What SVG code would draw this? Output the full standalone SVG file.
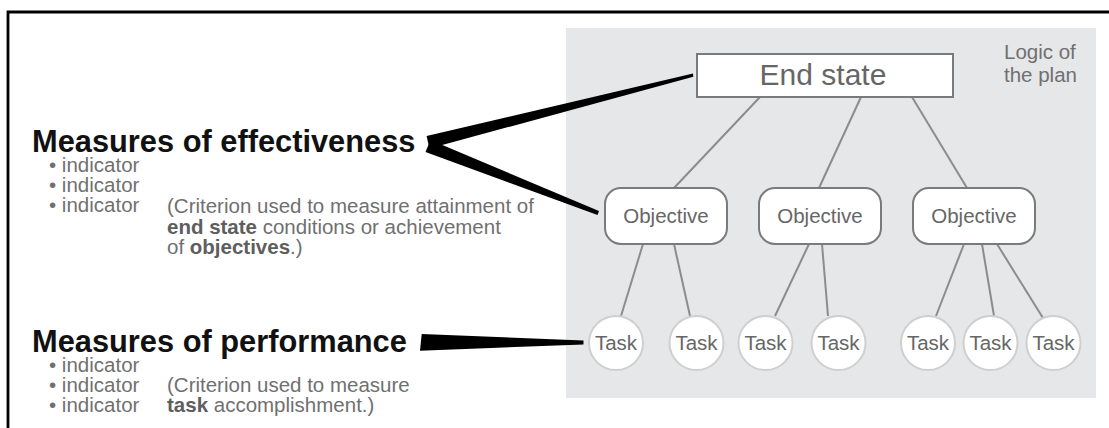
<svg xmlns="http://www.w3.org/2000/svg" width="1109" height="428" viewBox="0 0 1109 428">
<style>
text{font-family:"Liberation Sans",Arial,sans-serif}
.h{font-size:30.8px;font-weight:bold;fill:#111}
.b{font-size:20.5px;fill:#707070}
.bb{font-weight:bold;fill:#5e5e5e}
.n{font-size:20.5px;fill:#666;text-anchor:middle}
.es{font-size:30px;fill:#666;text-anchor:middle}
.box{fill:#fff;stroke:#7a7a7a;stroke-width:2}
.task{fill:#fff;stroke:#cfcfcf;stroke-width:2}
.ln{stroke:#8c8c8c;stroke-width:2;fill:none}
.wedge{fill:#000}
</style>
<rect x="0" y="0" width="1109" height="428" fill="#fff"/>
<g id="frame" stroke="#000" stroke-width="2.8" fill="none">
<path d="M8,428 V12 H1109"/>
</g>
<rect id="panel" x="566" y="28" width="530" height="370" fill="#e6e7e9"/>
<g id="connectors">
<line class="ln" x1="760" y1="97" x2="674" y2="188"/>
<line class="ln" x1="861" y1="97" x2="819" y2="188"/>
<line class="ln" x1="912" y1="97" x2="967" y2="188"/>
<line class="ln" x1="643" y1="244" x2="621" y2="316"/>
<line class="ln" x1="674" y1="244" x2="690" y2="316"/>
<line class="ln" x1="809" y1="244" x2="775" y2="316"/>
<line class="ln" x1="822" y1="244" x2="828" y2="316"/>
<line class="ln" x1="964" y1="244" x2="936" y2="316"/>
<line class="ln" x1="982" y1="244" x2="994" y2="316"/>
<line class="ln" x1="997" y1="244" x2="1043" y2="318"/>
<polygon class="wedge" points="426.6,136 693,73.5 693.3,76.8 429.4,148.5"/>
<polygon class="wedge" points="430.5,140 599,211 597.5,215 425.5,152"/>
<polygon class="wedge" points="421.7,334 583.5,340.5 583.5,344.5 420,350.7"/>
</g>
<g id="endstate">
<rect class="box" x="697" y="54" width="256" height="43"/>
<text class="es" x="823" y="85">End state</text>
</g>
<g id="logic">
<text class="b" x="1004" y="59">Logic of</text>
<text class="b" x="1004" y="82">the plan</text>
</g>
<g id="obj1"><rect class="box" x="605" y="188" width="122" height="56" rx="16"/><text class="n" x="666" y="223">Objective</text></g>
<g id="obj2"><rect class="box" x="759" y="188" width="122" height="56" rx="16"/><text class="n" x="820" y="223">Objective</text></g>
<g id="obj3"><rect class="box" x="913" y="188" width="122" height="56" rx="16"/><text class="n" x="974" y="223">Objective</text></g>
<g id="task1"><circle class="task" cx="616" cy="343" r="27"/><text class="n" x="616" y="350">Task</text></g>
<g id="task2"><circle class="task" cx="696.5" cy="343" r="27"/><text class="n" x="696.5" y="350">Task</text></g>
<g id="task3"><circle class="task" cx="765.5" cy="343" r="27"/><text class="n" x="765.5" y="350">Task</text></g>
<g id="task4"><circle class="task" cx="838.5" cy="343" r="27"/><text class="n" x="838.5" y="350">Task</text></g>
<g id="task5"><circle class="task" cx="928" cy="343" r="27"/><text class="n" x="928" y="350">Task</text></g>
<g id="task6"><circle class="task" cx="990.5" cy="343" r="27"/><text class="n" x="990.5" y="350">Task</text></g>
<g id="task7"><circle class="task" cx="1053.5" cy="343" r="27"/><text class="n" x="1053.5" y="350">Task</text></g>
<g id="moe">
<text class="h" x="32" y="152">Measures of effectiveness</text>
<text class="b" x="49" y="172">• indicator</text>
<text class="b" x="49" y="192">• indicator</text>
<text class="b" x="49" y="212">• indicator</text>
<text class="b" x="167" y="213">(Criterion used to measure attainment of</text>
<text class="b" x="167" y="234"><tspan class="bb">end state</tspan> conditions or achievement</text>
<text class="b" x="167" y="254">of <tspan class="bb">objectives</tspan>.)</text>
</g>
<g id="mop">
<text class="h" x="32" y="352">Measures of performance</text>
<text class="b" x="49" y="372">• indicator</text>
<text class="b" x="49" y="392">• indicator</text>
<text class="b" x="49" y="412">• indicator</text>
<text class="b" x="167" y="392">(Criterion used to measure</text>
<text class="b" x="167" y="412"><tspan class="bb">task</tspan> accomplishment.)</text>
</g>
</svg>
